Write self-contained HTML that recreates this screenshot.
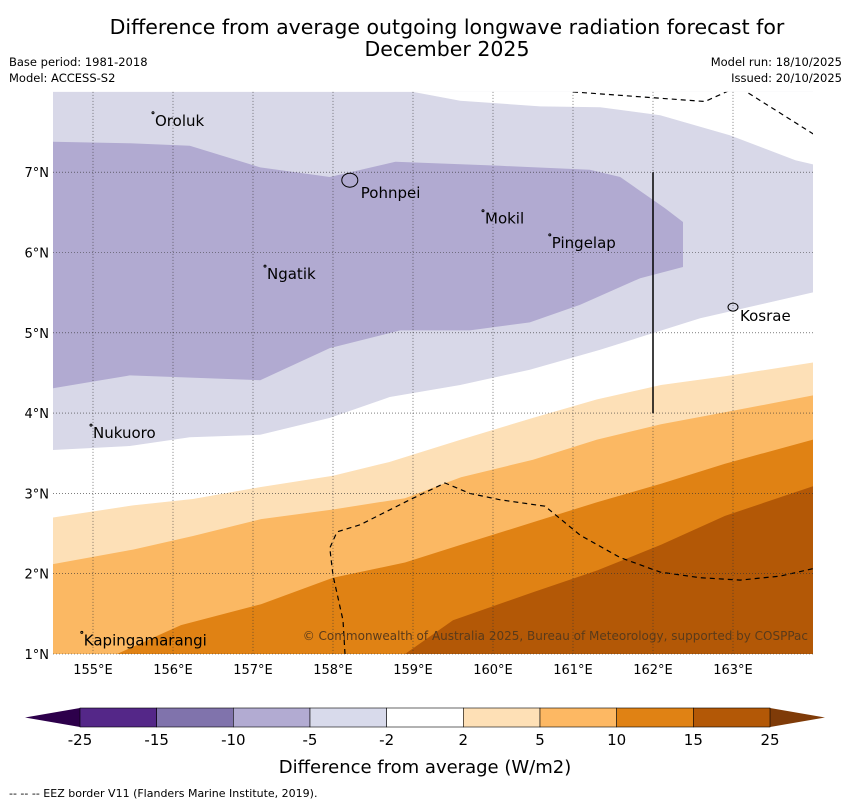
<!DOCTYPE html>
<html><head><meta charset="utf-8"><style>
body{margin:0;background:#fff;font-family:"Liberation Sans","DejaVu Sans",sans-serif;}
svg text{font-family:"DejaVu Sans","Liberation Sans",sans-serif;}
</style></head><body>
<svg id="c" width="850" height="804" viewBox="0 0 850 804" xmlns="http://www.w3.org/2000/svg">
<text x="447" y="34" font-size="20.5" text-anchor="middle">Difference from average outgoing longwave radiation forecast for</text>
<text x="447" y="56" font-size="20.5" text-anchor="middle">December 2025</text>
<text x="9" y="66" font-size="11.5">Base period: 1981-2018</text>
<text x="9" y="82" font-size="11.5">Model: ACCESS-S2</text>
<text x="842" y="66" font-size="11.5" text-anchor="end">Model run: 18/10/2025</text>
<text x="842" y="82" font-size="11.5" text-anchor="end">Issued: 20/10/2025</text>
<g id="map"></g>
<g id="cb"></g>
<text x="425" y="773" font-size="18" text-anchor="middle">Difference from average (W/m2)</text>
<text x="9" y="797" font-size="11">--  --  -- EEZ border V11 (Flanders Marine Institute, 2019).</text>
</svg>
<script>
const NS="http://www.w3.org/2000/svg";
const lonMin=154.5, lonMax=164.0, latMin=1, latMax=8;
const X=lon=>53+(lon-lonMin)*80;
const Y=lat=>654-(lat-latMin)*80.3;
const whiteTop=[[159.0,8.1],[159.0,8.0],[159.59,7.89],[160.59,7.82],[161.34,7.81],[162.09,7.71],[162.96,7.46],[163.78,7.15],[164.03,7.09],[164.85,7.05],[164.85,8.1]];
const lav10=[[154.5,7.38],[155.46,7.36],[156.21,7.33],[157.09,7.06],[157.96,6.94],[158.78,7.13],[160.09,7.08],[161.21,7.03],[161.59,6.94],[162.15,6.55],[162.375,6.38],[162.375,5.82],[161.84,5.68],[161.09,5.35],[160.46,5.13],[159.71,5.03],[158.84,5.03],[157.96,4.81],[157.09,4.41],[155.46,4.47],[154.5,4.31]];
const lav5Bottom=[[154.5,3.54],[155.46,3.59],[156.21,3.7],[157.09,3.73],[157.96,3.94],[158.71,4.2],[159.59,4.35],[160.46,4.54],[161.34,4.79],[162.59,5.18],[164.03,5.51]];
const c2=[[154.5,2.7],[155.5,2.85],[156.25,2.93],[157.1,3.08],[158.0,3.22],[158.7,3.39],[159.6,3.67],[160.5,3.94],[161.3,4.17],[162.1,4.35],[162.9,4.46],[164.0,4.63]];
const c5=[[154.5,2.12],[155.5,2.3],[156.25,2.47],[157.1,2.68],[158.0,2.8],[158.9,2.94],[159.6,3.2],[160.5,3.42],[161.3,3.67],[162.1,3.86],[162.9,4.01],[164.0,4.22]];
const c10=[[155.3,1.0],[156.1,1.36],[157.1,1.62],[158.0,1.95],[158.9,2.14],[159.6,2.36],[160.5,2.64],[161.3,2.89],[162.1,3.12],[162.9,3.37],[164.0,3.67]];
const c15=[[158.9,1.0],[159.5,1.42],[160.5,1.77],[161.3,2.04],[162.1,2.36],[162.9,2.72],[164.0,3.09]];
const eezA=[[161.0,8.0],[162.65,7.88],[162.96,8.02],[163.09,8.05],[164.03,7.46]];
const eezB=[[158.15,1.0],[158.125,1.42],[158.0,1.98],[157.96,2.32],[158.05,2.52],[158.34,2.61],[158.96,2.92],[159.4,3.13],[159.71,3.0],[160.09,2.92],[160.65,2.84],[161.09,2.48],[161.59,2.2],[162.09,2.02],[162.59,1.95],[163.09,1.92],[163.59,1.97],[164.03,2.07]];
const islands=[["Oroluk",155.75,7.74],["Pohnpei",158.21,6.9],["Mokil",159.875,6.52],["Pingelap",160.71,6.22],["Ngatik",157.15,5.83],["Kosrae",163.0,5.32],["Nukuoro",154.975,3.85],["Kapingamarangi",154.86,1.27]];
const lonTicks=[155,156,157,158,159,160,161,162,163];
const latTicks=[1,2,3,4,5,6,7];
const cbLevels=["-25","-15","-10","-5","-2","2","5","10","15","25"];
const cbColors=["#542788","#8073ac","#b2abd2","#d8daeb","#ffffff","#fee0b6","#fdb863","#e08214","#b35806"];

const map=document.getElementById('map');
function el(t,a,p){const e=document.createElementNS(NS,t);for(const k in a)e.setAttribute(k,a[k]);(p||map).appendChild(e);return e;}
const pts=a=>a.map(p=>X(p[0]).toFixed(1)+","+Y(p[1]).toFixed(1)).join(" ");
const L=X(lonMin),R=X(lonMax),T=Y(latMax),B=Y(latMin);
let clip=el('clipPath',{id:'mc'});el('rect',{x:L,y:T,width:R-L,height:B-T},clip);
const g=el('g',{'clip-path':'url(#mc)'});


function band(top,bot,color,name){
  const arr=top.concat(bot.slice().reverse());
  const p=el('polygon',{points:pts(arr),fill:color},g);
  
  
}
band([[154.5,8.1],[164.85,8.1]],[[154.5,lav5Bottom[0][1]]].concat(lav5Bottom).concat([[164.85,5.5]]),"#d8d8e8","band-minus5-minus2");
let w=el('polygon',{points:pts(whiteTop),fill:"#fff"},g);


let d=el('polygon',{points:pts(lav10),fill:"#b1aad1"},g);


band(c2.concat([[164.85,4.63]]),[[154.5,0.5],[164.85,0.5]],"#fde0b7","band-2-5");
band(c5.concat([[164.85,4.22]]),[[154.5,0.5],[164.85,0.5]],"#fbb863","band-5-10");
band([[155.3,0.5]].concat(c10).concat([[164.85,3.67]]),[[155.3,0.5],[164.85,0.5]],"#e08214","band-10-15");
band([[158.9,0.5]].concat(c15).concat([[164.85,3.09]]),[[158.9,0.5],[164.85,0.5]],"#b35806","band-15-25");
lonTicks.forEach(v=>{let l=el('line',{x1:X(v),x2:X(v),y1:T,y2:B,stroke:"#333",'stroke-width':0.6,'stroke-dasharray':"1,2"});

let t=el('text',{x:X(v),y:B+20,'font-size':13,'text-anchor':'middle'});t.textContent=v+"°E";
});
latTicks.forEach(v=>{let l=el('line',{x1:L,x2:R,y1:Y(v),y2:Y(v),stroke:"#333",'stroke-width':0.6,'stroke-dasharray':"1,2"});

let t=el('text',{x:L-4,y:Y(v)+5,'font-size':13,'text-anchor':'end'});t.textContent=v+"°N";
});
[eezA,eezB].forEach(a=>{let p=el('polyline',{points:pts(a),fill:'none',stroke:'#000','stroke-width':1.2,'stroke-dasharray':'5,4'},g);
});
let vl=el('line',{x1:X(162),x2:X(162),y1:Y(7),y2:Y(4),stroke:'#000','stroke-width':1.5});

islands.forEach(([n,lo,la])=>{
  let big=n=="Pohnpei", mid=n=="Kosrae";
  let m=el('ellipse',{cx:X(lo),cy:Y(la),rx:big?8:(mid?5:1),ry:big?7:(mid?4:1),fill:'none',stroke:'#000','stroke-width':1});
  
  let t=el('text',{x:X(lo)+(big?11:(mid?7:2)),y:Y(la)+(big?18:(mid?14:13)),'font-size':15});t.textContent=n;
  
});
let cp=el('text',{x:808,y:640,'font-size':12,'text-anchor':'end',fill:'#5a3a1a'});cp.textContent="© Commonwealth of Australia 2025, Bureau of Meteorology, supported by COSPPac";

const cb=document.getElementById('cb');
const cx0=80,cx1=770,cy=708,ch=19,sw=(cx1-cx0)/cbColors.length;
let lt=el('polygon',{points:`${cx0},${cy} ${cx0},${cy+ch} 25,${cy+ch/2}`,fill:'#2d004b'},cb);

let rt=el('polygon',{points:`${cx1},${cy} ${cx1},${cy+ch} 825,${cy+ch/2}`,fill:'#7f3b08'},cb);

cbColors.forEach((c,i)=>{let r=el('rect',{x:cx0+i*sw,y:cy,width:sw,height:ch,fill:c,stroke:'#000','stroke-width':0.6},cb);
});
cbLevels.forEach((v,i)=>{let t=el('text',{x:cx0+i*sw,y:745,'font-size':15,'text-anchor':'middle'},cb);t.textContent=v;
});
</script>
</body></html>
